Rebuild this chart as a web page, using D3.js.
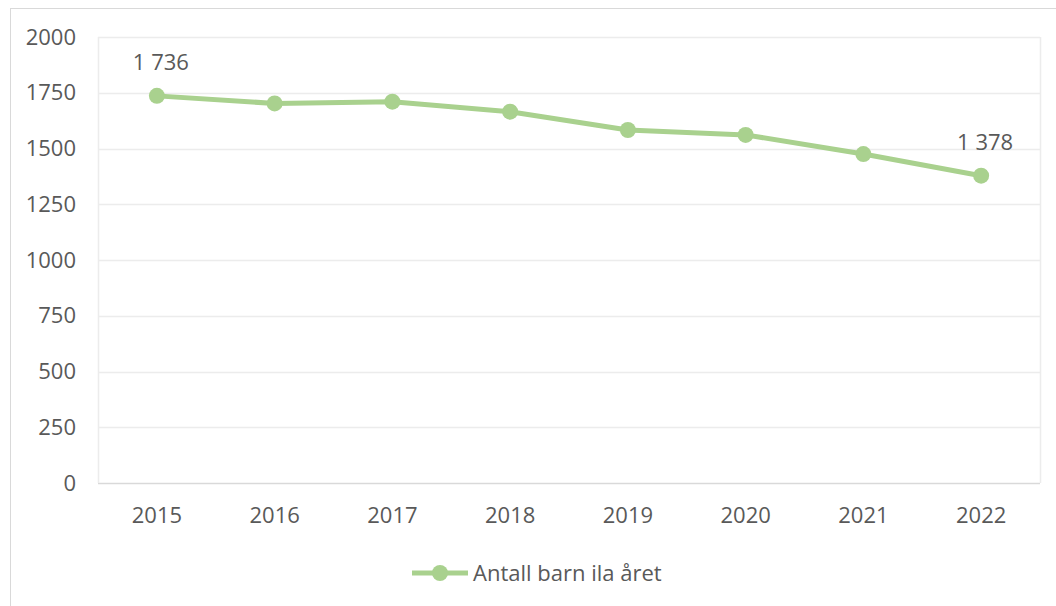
<!DOCTYPE html>
<html>
<head>
<meta charset="utf-8">
<title>Antall barn ila året</title>
<script src="https://d3js.org/d3.v7.min.js"></script>
<style>
  body { margin: 0; background: #fff; }
  text { font-family: "Open Sans", "Liberation Sans", sans-serif; fill: #595959; }
</style>
</head>
<body>
<script>
var years = ["2015", "2016", "2017", "2018", "2019", "2020", "2021", "2022"];
var antall = [1736, 1702, 1710, 1665, 1583, 1561, 1475, 1378];
var yTicks = [0, 250, 500, 750, 1000, 1250, 1500, 1750, 2000];
var seriesName = "Antall barn ila året";

var w = 1056, h = 606;
var pLeft = 98, pRight = 1040, pTop = 37, pBottom = 483;
var green = "#a9d18e";
var fs = "22px";

var svg = d3.select("body").append("svg")
  .attr("width", w)
  .attr("height", h);

// ytre ramme
svg.append("rect")
  .attr("x", 10.5).attr("y", 8.5)
  .attr("width", 1100).attr("height", 700)
  .attr("fill", "#fff")
  .attr("stroke", "#d9d9d9");

var x = d3.scaleBand().domain(years).range([pLeft, pRight]);
var y = d3.scaleLinear().domain([0, 2000]).range([pBottom, pTop]);

// rutenett
svg.append("g")
  .selectAll("line")
  .data(yTicks)
  .enter()
  .append("line")
  .attr("x1", pLeft).attr("x2", pRight)
  .attr("y1", function(d) { return Math.round(y(d)) + 0.5; })
  .attr("y2", function(d) { return Math.round(y(d)) + 0.5; })
  .attr("stroke", function(d) { return d === 0 ? "#d9d9d9" : "#ececec"; })
  .attr("stroke-width", 1.5);

// plotramme sider
svg.append("line").attr("x1", pLeft + 0.5).attr("x2", pLeft + 0.5)
  .attr("y1", pTop).attr("y2", pBottom).attr("stroke", "#ececec").attr("stroke-width", 1.5);
svg.append("line").attr("x1", pRight + 0.5).attr("x2", pRight + 0.5)
  .attr("y1", pTop).attr("y2", pBottom).attr("stroke", "#ececec").attr("stroke-width", 1.5);

// y-akse
var yAxis = svg.append("g")
  .attr("transform", "translate(" + (pLeft - 22) + ",0)")
  .call(d3.axisLeft(y).tickValues(yTicks).tickSize(0).tickPadding(0).tickFormat(d3.format("d")));
yAxis.select(".domain").remove();
yAxis.selectAll("text").style("font-size", fs).attr("fill", "#595959");

// x-akse
var xAxis = svg.append("g")
  .attr("transform", "translate(0," + pBottom + ")")
  .call(d3.axisBottom(x).tickSize(0).tickPadding(24));
xAxis.select(".domain").remove();
xAxis.selectAll("text").style("font-size", fs).attr("fill", "#595959");

var cx = function(d, i) { return x(years[i]) + x.bandwidth() / 2; };

// linje
var line = d3.line()
  .x(function(d, i) { return cx(d, i); })
  .y(function(d) { return y(d); });

svg.append("path")
  .datum(antall)
  .attr("d", line)
  .attr("fill", "none")
  .attr("stroke", green)
  .attr("stroke-width", 5)
  .attr("stroke-linejoin", "round");

svg.selectAll("circle.pt")
  .data(antall)
  .enter()
  .append("circle")
  .attr("class", "pt")
  .attr("cx", cx)
  .attr("cy", function(d) { return y(d); })
  .attr("r", 8)
  .attr("fill", green);

// etiketter på første og siste punkt
var fmt = function(v) { return d3.format(",")(v).replace(",", " "); };
[0, antall.length - 1].forEach(function(i) {
  svg.append("text")
    .attr("x", cx(antall[i], i) + 4)
    .attr("y", y(antall[i]) - 26)
    .attr("text-anchor", "middle")
    .style("font-size", fs)
    .attr("fill", "#404040")
    .text(fmt(antall[i]));
});

// tegnforklaring
var lg = svg.append("g").attr("transform", "translate(412,573)");
lg.append("line").attr("x1", 0).attr("x2", 56).attr("y1", 0).attr("y2", 0)
  .attr("stroke", green).attr("stroke-width", 5);
lg.append("circle").attr("cx", 28).attr("cy", 0).attr("r", 8).attr("fill", green);
lg.append("text").attr("x", 61).attr("y", 8)
  .style("font-size", fs)
  .text(seriesName);
</script>
</body>
</html>
